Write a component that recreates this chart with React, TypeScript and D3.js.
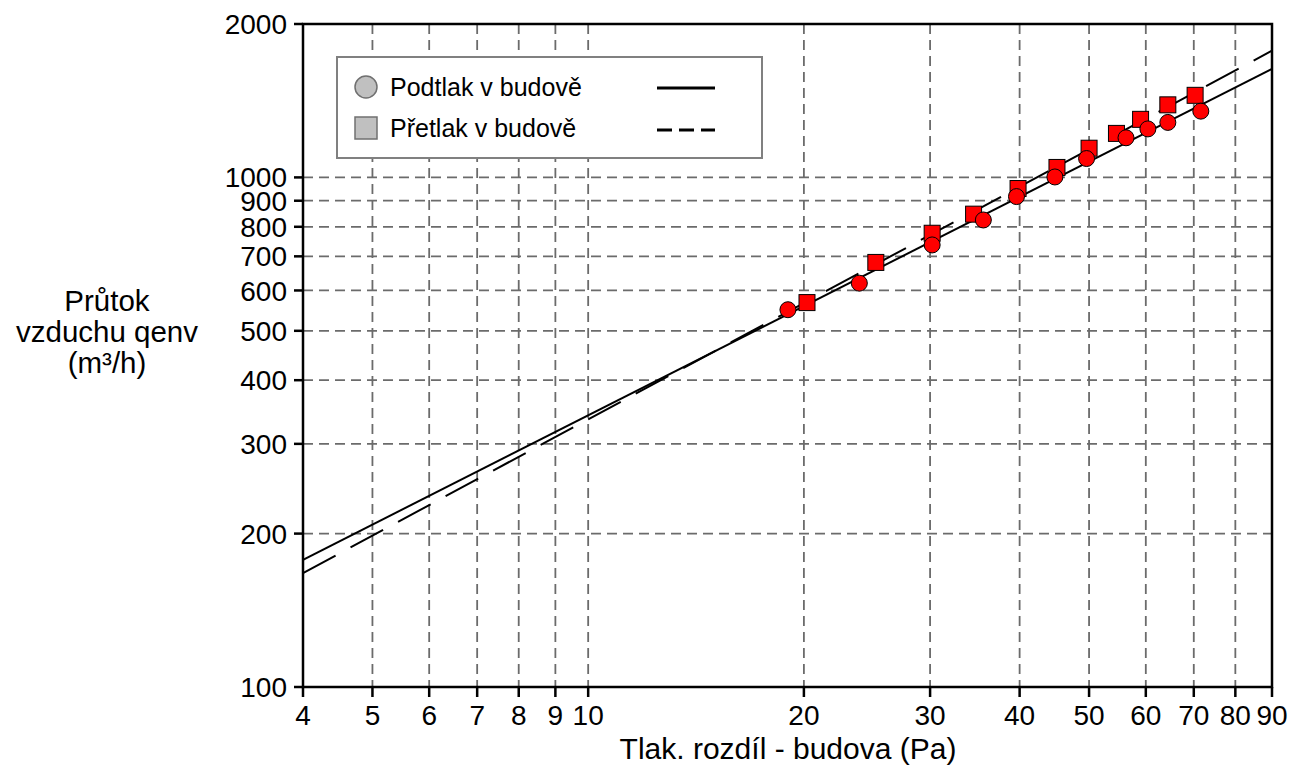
import React from "react";
import * as d3 from "d3";

// ---- data ----
const podtlakX = [19, 23.9, 30.2, 35.6, 39.6, 44.8, 49.6, 56.3, 60.4, 64.4, 71.6];
const podtlakY = [550, 620, 737, 825, 917, 1002, 1089, 1196, 1245, 1282, 1349];
const pretlakX = [20.2, 25.2, 30.2, 34.5, 39.8, 45.1, 50.0, 54.6, 59.0, 64.4, 70.3];
const pretlakY = [568, 681, 777, 847, 951, 1046, 1141, 1220, 1300, 1388, 1449];

const fitX = [4, 90];
const podtlakFitY = [177.7, 1632];
const pretlakFitY = [167.3, 1773];

const xTicks = [4, 5, 6, 7, 8, 9, 10, 20, 30, 40, 50, 60, 70, 80, 90];
const xGrid = [5, 6, 7, 8, 9, 10, 20, 30, 40, 50, 60, 70, 80];
const yTicks = [100, 200, 300, 400, 500, 600, 700, 800, 900, 1000, 2000];
const yGrid = [200, 300, 400, 500, 600, 700, 800, 900, 1000];

const legendItems = ["Podtlak v budově", "Přetlak v budově"];
const xTitle = "Tlak. rozdíl - budova (Pa)";
const yTitleLines = ["Průtok", "vzduchu qenv", "(m³/h)"];

const W = 1290;
const H = 767;
const L = 303, R = 1272, T = 24, B = 687;
const FONT = "'Liberation Sans', Arial, Helvetica, sans-serif";

export default function App() {
  const x = d3.scaleLog().domain([4, 90]).range([L, R]);
  const y = d3.scaleLog().domain([100, 2000]).range([B, T]);
  const line = d3
    .line<[number, number]>()
    .x((d) => x(d[0]))
    .y((d) => y(d[1]));
  const podFit = fitX.map((v, i) => [v, podtlakFitY[i]] as [number, number]);
  const preFit = fitX.map((v, i) => [v, pretlakFitY[i]] as [number, number]);

  return (
    <svg
      width={W}
      height={H}
      style={{ position: "absolute", left: 0, top: 0, background: "#fff" }}
      fontFamily={FONT}
    >
      <defs>
        <clipPath id="plot">
          <rect x={L} y={T} width={R - L} height={B - T} />
        </clipPath>
      </defs>
      {/* grid */}
      {xGrid.map((v) => (
        <line
          key={"xg" + v}
          x1={x(v)}
          x2={x(v)}
          y1={T}
          y2={B}
          stroke="#6b6b6b"
          strokeWidth={1.8}
          strokeDasharray="10 6"
        />
      ))}
      {yGrid.map((v) => (
        <line
          key={"yg" + v}
          x1={L}
          x2={R}
          y1={y(v)}
          y2={y(v)}
          stroke="#6b6b6b"
          strokeWidth={1.8}
          strokeDasharray="10 6"
        />
      ))}

      {/* fit lines */}
      <g clipPath="url(#plot)">
        <path d={line(podFit) || ""} fill="none" stroke="#000" strokeWidth={2} />
        <path
          d={line(preFit) || ""}
          fill="none"
          stroke="#000"
          strokeWidth={2}
          strokeDasharray="37 17"
        />
      </g>

      {/* markers */}
      {pretlakX.map((v, i) => (
        <rect
          key={"s" + i}
          x={x(v) - 8}
          y={y(pretlakY[i]) - 8}
          width={16}
          height={16}
          fill="#ff0000"
          stroke="#000"
          strokeWidth={1}
        />
      ))}
      {podtlakX.map((v, i) => (
        <circle
          key={"c" + i}
          cx={x(v)}
          cy={y(podtlakY[i])}
          r={8}
          fill="#ff0000"
          stroke="#000"
          strokeWidth={1}
        />
      ))}

      {/* frame */}
      <rect x={L} y={T} width={R - L} height={B - T} fill="none" stroke="#000" strokeWidth={2.5} />

      {/* y ticks */}
      {yTicks.map((v) => (
        <g key={"yt" + v}>
          <line x1={L - 9} x2={L} y1={y(v)} y2={y(v)} stroke="#000" strokeWidth={2.5} />
          <text x={L - 16} y={y(v)} dy="0.36em" textAnchor="end" fontSize={28} fill="#000">
            {v}
          </text>
        </g>
      ))}
      {/* x ticks */}
      {xTicks.map((v) => (
        <g key={"xt" + v}>
          <line x1={x(v)} x2={x(v)} y1={B} y2={B + 10} stroke="#000" strokeWidth={2.5} />
          <text x={x(v)} y={725} textAnchor="middle" fontSize={28} fill="#000">
            {v}
          </text>
        </g>
      ))}

      {/* axis titles */}
      <text x={788} y={759} textAnchor="middle" fontSize={30} fill="#000">
        {xTitle}
      </text>
      {yTitleLines.map((t, i) => (
        <text key={"yl" + i} x={107} y={311 + i * 31} textAnchor="middle" fontSize={29.5} fill="#000">
          {t}
        </text>
      ))}

      {/* legend */}
      <rect x={337} y={57} width={425} height={101} fill="#fff" stroke="#808080" strokeWidth={2} />
      <circle cx={366} cy={87} r={11} fill="#c0c0c0" stroke="#707070" strokeWidth={1.5} />
      <rect x={355} y={117} width={22} height={22} fill="#c0c0c0" stroke="#707070" strokeWidth={1.5} />
      <text x={390} y={96} fontSize={25} fill="#000">
        {legendItems[0]}
      </text>
      <text x={390} y={137} fontSize={25} fill="#000">
        {legendItems[1]}
      </text>
      <line x1={657} x2={715} y1={88} y2={88} stroke="#000" strokeWidth={3} />
      <line x1={657} x2={715} y1={130} y2={130} stroke="#000" strokeWidth={3} strokeDasharray="15 7" />
    </svg>
  );
}
